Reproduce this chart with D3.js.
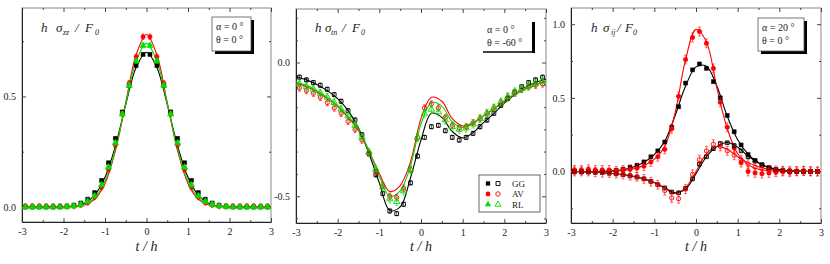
<!DOCTYPE html>
<html><head><meta charset="utf-8">
<script src="https://cdn.jsdelivr.net/npm/d3@7"></script>
<style>
html,body{margin:0;padding:0;background:#fff;}
svg{display:block;}
svg text{font-family:'Liberation Serif','Times New Roman','DejaVu Serif',serif !important;}
</style></head>
<body>
<svg id="chart" width="830" height="264" font-family="Liberation Serif, DejaVu Serif, serif"></svg>
<script>
// ---------------- DATA ----------------
const xTickLabels = [-3,-2,-1,0,1,2,3];
const xMinorTicks = [-2.5,-1.5,-0.5,0.5,1.5,2.5];
const seriesNames = ["GG","AV","RL"];

// grid for the model curves
const tLine = [-3,-2.75,-2.5,-2.25,-2,-1.75,-1.5,-1.25,-1,-0.75,-0.5,-0.25,0,0.25,0.5,0.75,1,1.25,1.5,1.75,2,2.25,2.5,2.75,3];
// grid for the measured points
const tPts = [-2.917,-2.75,-2.583,-2.417,-2.25,-2.083,-1.917,-1.75,-1.583,-1.417,-1.25,-1.083,-0.917,-0.75,-0.583,-0.417,-0.25,-0.083,
              0.083,0.25,0.417,0.583,0.75,0.917,1.083,1.25,1.417,1.583,1.75,1.917,2.083,2.25,2.417,2.583,2.75,2.917];

// Panel 1: h sigma_zz / F0  (alpha = 0, theta = 0)
const p1YTicks = [0,0.5];
const p1GGLine = [0,0,0,0,0.001,0.004,0.017,0.053,0.134,0.276,0.463,0.631,0.70,0.631,0.463,0.276,0.134,0.053,0.017,0.004,0.001,0,0,0,0];
const p1AVLine = [0,0,0,0,0,0.002,0.009,0.034,0.106,0.253,0.473,0.688,0.78,0.688,0.473,0.253,0.106,0.034,0.009,0.002,0,0,0,0,0];
const p1RLLine = [0,0,0,0,0,0.003,0.012,0.041,0.117,0.261,0.466,0.659,0.74,0.659,0.466,0.261,0.117,0.041,0.012,0.003,0,0,0,0,0];
const p1GGPts = [0,0,0,0,0,0.001,0.003,0.008,0.018,0.035,0.065,0.12,0.20,0.31,0.43,0.55,0.64,0.69,
                 0.69,0.64,0.55,0.43,0.31,0.20,0.12,0.065,0.035,0.018,0.008,0.003,0.001,0,0,0,0,0];
const p1AVPts = [0.003,0.003,0.003,0.003,0.003,0.003,0.003,0.004,0.01,0.02,0.045,0.09,0.17,0.28,0.42,0.56,0.68,0.77,
                 0.77,0.68,0.56,0.42,0.28,0.17,0.09,0.045,0.02,0.01,0.004,0.003,0.003,0.003,0.003,0.003,0.003,0.003];
const p1RLPts = [0,0,0,0,0,0,0.002,0.005,0.012,0.025,0.05,0.10,0.18,0.29,0.42,0.55,0.66,0.73,
                 0.73,0.66,0.55,0.42,0.29,0.18,0.10,0.05,0.025,0.012,0.005,0.002,0,0,0,0,0,0];
const p1Err = [0.006,0.012,0.01];

// Panel 2: h sigma_tn / F0  (alpha = 0, theta = -60)
const p2YTicks = [0,-0.5];
const p2GGLine = [-0.052,-0.065,-0.082,-0.105,-0.135,-0.18,-0.245,-0.34,-0.45,-0.553,-0.54,-0.43,-0.29,-0.19,-0.205,-0.258,-0.282,-0.262,-0.225,-0.19,-0.152,-0.12,-0.093,-0.075,-0.062];
const p2AVLine = [-0.077,-0.09,-0.11,-0.135,-0.165,-0.205,-0.255,-0.33,-0.415,-0.482,-0.46,-0.37,-0.21,-0.13,-0.145,-0.21,-0.237,-0.225,-0.2,-0.173,-0.145,-0.12,-0.1,-0.085,-0.07];
const p2RLLine = [-0.072,-0.085,-0.105,-0.13,-0.16,-0.2,-0.25,-0.33,-0.425,-0.5,-0.48,-0.385,-0.23,-0.15,-0.163,-0.222,-0.243,-0.228,-0.2,-0.172,-0.142,-0.118,-0.098,-0.082,-0.068];
const p2GGPts = [-0.055,-0.065,-0.075,-0.085,-0.10,-0.12,-0.145,-0.18,-0.215,-0.27,-0.34,-0.42,-0.49,-0.555,-0.565,-0.53,-0.45,-0.35,
                 -0.28,-0.24,-0.235,-0.255,-0.28,-0.29,-0.28,-0.265,-0.24,-0.215,-0.19,-0.16,-0.135,-0.11,-0.09,-0.075,-0.065,-0.055];
const p2AVPts = [-0.095,-0.105,-0.115,-0.13,-0.15,-0.17,-0.19,-0.22,-0.25,-0.29,-0.34,-0.41,-0.46,-0.50,-0.505,-0.47,-0.40,-0.28,
                 -0.17,-0.155,-0.17,-0.205,-0.235,-0.245,-0.24,-0.225,-0.21,-0.19,-0.17,-0.15,-0.13,-0.115,-0.10,-0.09,-0.085,-0.08];
const p2RLPts = [-0.08,-0.09,-0.10,-0.115,-0.13,-0.15,-0.175,-0.20,-0.235,-0.28,-0.335,-0.40,-0.465,-0.51,-0.52,-0.48,-0.40,-0.28,
                 -0.19,-0.175,-0.185,-0.215,-0.24,-0.25,-0.245,-0.23,-0.21,-0.19,-0.17,-0.148,-0.128,-0.11,-0.098,-0.088,-0.078,-0.07];
const p2Err = [0.008,0.012,0.015];

// Panel 3: h sigma_ij / F0  (alpha = 20, theta = 0)
const p3YTicks = [0,0.5,1.0];
const p3GGUpLine = [0,0,0,0.001,0.004,0.012,0.03,0.062,0.115,0.205,0.38,0.58,0.71,0.715,0.58,0.375,0.215,0.118,0.06,0.028,0.012,0.005,0.002,0,0];
const p3AVUpLine = [0,0,0,0,0.001,0.006,0.018,0.04,0.082,0.17,0.40,0.76,0.965,0.88,0.57,0.29,0.12,0.045,0.015,0.005,0.002,0,0,0,0];
const p3GGLoLine = [0,-0.002,-0.004,-0.008,-0.014,-0.022,-0.033,-0.05,-0.075,-0.11,-0.145,-0.12,-0.015,0.10,0.17,0.197,0.165,0.105,0.058,0.026,0.01,0.004,0.001,0,0];
const p3AVLoLine = [0,-0.002,-0.004,-0.008,-0.014,-0.022,-0.034,-0.052,-0.077,-0.115,-0.15,-0.11,0.0,0.12,0.17,0.15,0.10,0.06,0.032,0.015,0.006,0.002,0,0,0];
const p3GGUpPts = [0,0,0,0,0.001,0.003,0.008,0.015,0.028,0.042,0.065,0.10,0.14,0.20,0.30,0.44,0.60,0.69,
                   0.73,0.70,0.61,0.50,0.38,0.27,0.18,0.115,0.075,0.045,0.025,0.012,0.005,0.002,0.001,0,0,0];
const p3AVUpPts = [0.01,0.01,0.015,0.01,0.01,0.01,0.005,0.01,0.015,0.022,0.035,0.065,0.10,0.15,0.29,0.51,0.76,0.91,
                   0.95,0.87,0.70,0.47,0.30,0.16,0.06,0.0,-0.01,-0.015,-0.01,-0.005,0.0,-0.005,0.0,0.005,0.0,0.0];
const p3GGLoPts = [0,-0.002,-0.004,-0.006,-0.008,-0.012,-0.016,-0.022,-0.03,-0.038,-0.05,-0.068,-0.09,-0.112,-0.14,-0.145,-0.115,-0.05,
                   0.05,0.10,0.155,0.19,0.195,0.175,0.14,0.10,0.07,0.045,0.025,0.012,0.005,0.002,0,0,0,0];
const p3AVLoPts = [0,0,0,-0.005,-0.008,-0.01,-0.015,-0.02,-0.028,-0.036,-0.05,-0.07,-0.09,-0.13,-0.18,-0.185,-0.12,-0.02,
                   0.08,0.14,0.185,0.17,0.14,0.11,0.08,0.05,0.03,0.02,0.01,0.008,0.005,0.005,0.003,0.003,0.002,0];
const p3Err = [0.008,0.03];

// ---------------- DRAWING ----------------
const FONT = "Liberation Serif, DejaVu Serif, serif";
const COL = {GG:"#000000", AV:"#ff0000", RL:"#00dd00"};
const svg = d3.select("#chart");
const lineGen = d3.line().curve(d3.curveCatmullRom.alpha(0.5));

function fmtY(d){ return d3.format(".1f")(d).replace("−","-"); }

function makePanel(cfg){
  const g = svg.append("g");
  const x = d3.scaleLinear().domain([-3,3]).range([cfg.x0,cfg.x1]);
  const y = d3.scaleLinear().domain(cfg.yDom).range([cfg.y1,cfg.y0]);

  g.append("rect").attr("x",cfg.x0).attr("y",cfg.y0).attr("width",cfg.x1-cfg.x0).attr("height",cfg.y1-cfg.y0)
    .attr("fill","none").attr("stroke","#888").attr("stroke-width",1);

  const styleAxis = s => { s.attr("font-family",FONT);
      s.selectAll("text").attr("font-size",10).attr("fill","#222").attr("font-family",FONT);
      s.selectAll("line").attr("stroke","#444"); };

  g.append("g").attr("transform",`translate(0,${cfg.y1})`)
    .call(d3.axisBottom(x).tickValues(xTickLabels).tickSize(-4).tickSizeOuter(0).tickPadding(6)
      .tickFormat(d=>String(d)))
    .call(s=>s.select(".domain").attr("stroke","#222")).call(styleAxis);
  g.append("g").attr("transform",`translate(0,${cfg.y1})`)
    .call(d3.axisBottom(x).tickValues(xMinorTicks).tickSize(-2).tickSizeOuter(0).tickFormat(""))
    .call(s=>s.select(".domain").remove()).call(styleAxis);
  g.append("g").attr("transform",`translate(0,${cfg.y0})`)
    .call(d3.axisTop(x).tickValues(xTickLabels).tickSize(-4).tickSizeOuter(0).tickFormat(""))
    .call(s=>s.select(".domain").remove()).call(styleAxis);
  g.append("g").attr("transform",`translate(0,${cfg.y0})`)
    .call(d3.axisTop(x).tickValues(xMinorTicks).tickSize(-2).tickSizeOuter(0).tickFormat(""))
    .call(s=>s.select(".domain").remove()).call(styleAxis);
  g.append("g").attr("transform",`translate(${cfg.x0},0)`)
    .call(d3.axisLeft(y).tickValues(cfg.yTicks).tickSize(-4).tickSizeOuter(0).tickPadding(6).tickFormat(fmtY))
    .call(s=>s.select(".domain").attr("stroke","#222")).call(styleAxis);
  g.append("g").attr("transform",`translate(${cfg.x0},0)`)
    .call(d3.axisLeft(y).tickValues(cfg.yMinor).tickSize(-2).tickSizeOuter(0).tickFormat(""))
    .call(s=>s.select(".domain").remove()).call(styleAxis);
  g.append("g").attr("transform",`translate(${cfg.x1},0)`)
    .call(d3.axisRight(y).tickValues(cfg.yTicks).tickSize(-4).tickSizeOuter(0).tickFormat(""))
    .call(s=>s.select(".domain").remove()).call(styleAxis);
  g.append("g").attr("transform",`translate(${cfg.x1},0)`)
    .call(d3.axisRight(y).tickValues(cfg.yMinor).tickSize(-2).tickSizeOuter(0).tickFormat(""))
    .call(s=>s.select(".domain").remove()).call(styleAxis);

  g.append("text").attr("x",(cfg.x0+cfg.x1)/2).attr("y",251).attr("text-anchor","middle")
    .attr("font-family",FONT).attr("font-size",14).attr("font-style","italic").attr("fill","#222").text("t / h");

  const tt = g.append("text").attr("y",32).attr("font-size",13).attr("font-style","italic")
    .attr("font-family",FONT).attr("fill","#222");
  const o = cfg.titleX;
  tt.append("tspan").attr("x",cfg.x0+o[0]).text("h");
  tt.append("tspan").attr("x",cfg.x0+o[1]).text("σ");
  tt.append("tspan").attr("x",cfg.x0+o[2]).attr("dy",3).attr("font-size",8).text(cfg.sub);
  tt.append("tspan").attr("x",cfg.x0+o[3]).attr("dy",-3).text("/");
  tt.append("tspan").attr("x",cfg.x0+o[4]).text("F");
  tt.append("tspan").attr("x",cfg.x0+o[5]).attr("dy",3).attr("font-size",8).text("0");

  cfg.lines.forEach(L=>{
    g.append("path").datum(tLine.map((t,i)=>[x(t),y(L.v[i])])).attr("d",lineGen)
      .attr("fill","none").attr("stroke",L.c).attr("stroke-width",1.1);
  });

  cfg.pts.forEach(P=>{
    const gp = g.append("g");
    const data = tPts.map((t,i)=>({t,v:P.v[i]}));
    gp.selectAll("line.eb").data(data).join("line").attr("class","eb")
      .attr("x1",d=>x(d.t)).attr("x2",d=>x(d.t)).attr("y1",d=>y(d.v-P.e)).attr("y2",d=>y(d.v+P.e))
      .attr("stroke",P.c).attr("stroke-width",0.6);
    gp.selectAll("line.cap1").data(data).join("line").attr("class","cap1")
      .attr("x1",d=>x(d.t)-1.5).attr("x2",d=>x(d.t)+1.5).attr("y1",d=>y(d.v+P.e)).attr("y2",d=>y(d.v+P.e))
      .attr("stroke",P.c).attr("stroke-width",0.6);
    gp.selectAll("line.cap2").data(data).join("line").attr("class","cap2")
      .attr("x1",d=>x(d.t)-1.5).attr("x2",d=>x(d.t)+1.5).attr("y1",d=>y(d.v-P.e)).attr("y2",d=>y(d.v-P.e))
      .attr("stroke",P.c).attr("stroke-width",0.6);
    const sym = d3.symbol().type(P.shape).size(P.size);
    gp.selectAll("path").data(data).join("path").attr("d",sym)
      .attr("transform",d=>`translate(${x(d.t)},${y(d.v)})`)
      .attr("fill",P.open?"none":P.c)
      .attr("stroke",P.c).attr("stroke-width",P.open?0.9:0.5);
  });

  const b = cfg.box;
  if (b.full){
    g.append("rect").attr("x",b.x+3).attr("y",b.y+3).attr("width",b.w).attr("height",b.h).attr("fill","#000");
    g.append("rect").attr("x",b.x).attr("y",b.y).attr("width",b.w).attr("height",b.h)
      .attr("fill","#fff").attr("stroke","#555").attr("stroke-width",0.8);
  } else {
    g.append("rect").attr("x",b.x+b.w-1).attr("y",b.y+2).attr("width",3).attr("height",b.h-1).attr("fill","#000");
    g.append("line").attr("x1",b.x).attr("x2",b.x+b.w).attr("y1",b.y+b.h).attr("y2",b.y+b.h)
      .attr("stroke","#000").attr("stroke-width",1.5);
  }
  b.lines.forEach((s,i)=>{
    g.append("text").attr("x",b.x+4).attr("y",b.y+13+i*12.5).attr("font-size",10)
      .attr("font-family",FONT).attr("fill","#222").text(s);
  });
  return {g,x,y};
}

makePanel({
  x0:22, x1:271, y0:8, y1:222, yDom:[-0.068,0.9], yTicks:p1YTicks, yMinor:[0.25,0.75],
  sub:"zz", titleX:[19,34,41,53,63,73],
  lines:[{v:p1GGLine,c:COL.GG},{v:p1AVLine,c:COL.AV},{v:p1RLLine,c:COL.RL}],
  pts:[{v:p1GGPts,c:COL.GG,e:p1Err[0],shape:d3.symbolSquare,size:16,open:false},
       {v:p1AVPts,c:COL.AV,e:p1Err[1],shape:d3.symbolCircle,size:15,open:false},
       {v:p1RLPts,c:COL.RL,e:p1Err[2],shape:d3.symbolTriangle,size:18,open:false}],
  box:{x:212,y:17,w:39,h:34,full:true,lines:["α = 0 °","θ = 0 °"]}
});

const p2 = makePanel({
  x0:296, x1:546, y0:9, y1:223, yDom:[-0.6,0.2], yTicks:p2YTicks,
  yMinor:[0.167,0.083,-0.083,-0.167,-0.25,-0.333,-0.417,-0.583],
  sub:"tn", titleX:[19,29,35,46,56,65],
  lines:[{v:p2GGLine,c:COL.GG},{v:p2AVLine,c:COL.AV},{v:p2RLLine,c:COL.RL}],
  pts:[{v:p2GGPts,c:COL.GG,e:p2Err[0],shape:d3.symbolSquare,size:14,open:true},
       {v:p2AVPts,c:COL.AV,e:p2Err[1],shape:d3.symbolCircle,size:14,open:true},
       {v:p2RLPts,c:COL.RL,e:p2Err[2],shape:d3.symbolTriangle,size:18,open:true}],
  box:{x:483,y:20,w:50,h:32,full:false,lines:["α = 0 °","θ = -60 °"]}
});

{
  const lg = p2.g.append("g");
  lg.append("rect").attr("x",479).attr("y",175).attr("width",61).attr("height",37)
    .attr("fill","#fff").attr("stroke","#666").attr("stroke-width",1);
  const shapes=[d3.symbolSquare,d3.symbolCircle,d3.symbolTriangle];
  seriesNames.forEach((n,i)=>{
    const yy = 183.5+i*10.5;
    lg.append("path").attr("d",d3.symbol().type(shapes[i]).size(18)()).attr("transform",`translate(488,${yy})`)
      .attr("fill",COL[n]);
    lg.append("path").attr("d",d3.symbol().type(shapes[i]).size(16)()).attr("transform",`translate(498,${yy})`)
      .attr("fill","none").attr("stroke",COL[n]).attr("stroke-width",0.9);
    lg.append("text").attr("x",512).attr("y",yy+3.2).attr("font-size",9).attr("font-family",FONT)
      .attr("fill","#222").text(n);
  });
}

makePanel({
  x0:571, x1:821, y0:8, y1:223, yDom:[-0.35,1.11], yTicks:p3YTicks, yMinor:[-0.25,0.25,0.75],
  sub:"ij", titleX:[20,32,40,46,54,62],
  lines:[{v:p3GGUpLine,c:COL.GG},{v:p3AVUpLine,c:COL.AV},{v:p3GGLoLine,c:COL.GG},{v:p3AVLoLine,c:COL.AV}],
  pts:[{v:p3GGUpPts,c:COL.GG,e:p3Err[0],shape:d3.symbolSquare,size:16,open:false},
       {v:p3AVUpPts,c:COL.AV,e:p3Err[1],shape:d3.symbolCircle,size:16,open:false},
       {v:p3GGLoPts,c:COL.GG,e:p3Err[0],shape:d3.symbolSquare,size:14,open:true},
       {v:p3AVLoPts,c:COL.AV,e:p3Err[1],shape:d3.symbolCircle,size:14,open:true}],
  box:{x:758,y:18,w:46,h:33,full:true,lines:["α = 20 °","θ = 0 °"]}
});
</script>
</body></html>
